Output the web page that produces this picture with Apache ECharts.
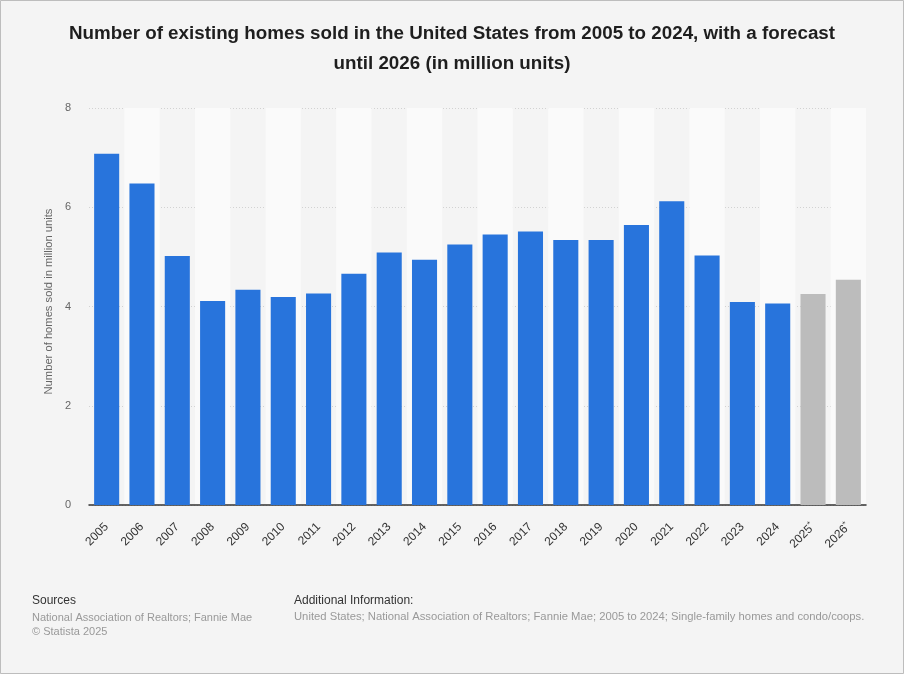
<!DOCTYPE html>
<html>
<head>
<meta charset="utf-8">
<script src="https://cdn.jsdelivr.net/npm/echarts@6/dist/echarts.min.js"></script>
<style>
html,body{margin:0;padding:0;background:#f4f4f4;}
#c{width:904px;height:674px;}
</style>
</head>
<body>
<div id="c"></div>
<script>
const categories = ['2005','2006','2007','2008','2009','2010','2011','2012','2013','2014','2015','2016','2017','2018','2019','2020','2021','2022','2023','2024','2025*','2026*'];
const homesSold = [7.08,6.48,5.02,4.11,4.34,4.19,4.26,4.66,5.09,4.94,5.25,5.45,5.51,5.34,5.34,5.64,6.12,5.03,4.09,4.06,4.25,4.54];
const forecastCategories = ['2025*','2026*'];
const yTicks = [0,2,4,6,8];

const chart = echarts.init(document.getElementById('c'), null, {renderer:'canvas'});
const FONT = '"Liberation Sans", Arial, Helvetica, sans-serif';

chart.setOption({
  backgroundColor: '#f4f4f4',
  animation: false,
  title: {
    text: 'Number of existing homes sold in the United States from 2005 to 2024, with a forecast\nuntil 2026 (in million units)',
    left: 'center',
    top: 14,
    textStyle: {fontFamily: FONT, fontSize: 18.8, fontWeight: 'bold', color: '#1e1e1e', lineHeight: 30}
  },
  grid: {left: 89, right: 38, top: 108, bottom: 169, containLabel: false},
  xAxis: {
    type: 'category',
    data: categories,
    boundaryGap: true,
    axisLine: {show: true, lineStyle: {color: '#333', width: 1.5}},
    axisTick: {show: false},
    splitArea: {show: true, areaStyle: {color: ['rgba(0,0,0,0)', '#fafafa']}},
    axisLabel: {
      rotate: 45, interval: 0, margin: 20,
      fontFamily: FONT, fontSize: 12, color: '#333',
      formatter: function (v) { return v.endsWith('*') ? v.slice(0, -1) + '{s|*}' : v; },
      rich: {s: {fontSize: 8, color: '#333', verticalAlign: 'top', padding: [0,0,6,0]}}
    }
  },
  yAxis: {
    type: 'value',
    min: yTicks[0], max: yTicks[yTicks.length - 1], interval: 2,
    name: 'Number of homes sold in million units',
    nameLocation: 'middle',
    nameGap: 34,
    nameTextStyle: {fontFamily: FONT, fontSize: 11.2, color: '#666', padding: [0, 0, 0, 10]},
    axisLine: {show: false},
    axisTick: {show: false},
    axisLabel: {fontFamily: FONT, fontSize: 11, color: '#666', margin: 18},
    splitLine: {show: true, lineStyle: {color: '#d2d2d2', type: [1, 2], width: 1}}
  },
  series: [{
    type: 'bar',
    barCategoryGap: '29%',
    data: homesSold.map((v, i) => ({
      value: v,
      itemStyle: {color: forecastCategories.includes(categories[i]) ? '#bcbcbc' : '#2874dc'}
    }))
  }],
  graphic: [
    {type: 'rect', shape: {x: 0.5, y: 0.5, width: 903, height: 673}, style: {fill: 'none', stroke: '#bdbdbd', lineWidth: 1}, silent: true},
    {type: 'text', left: 32, top: 595, style: {text: 'Sources', font: '12px ' + FONT, fill: '#333'}},
    {type: 'text', left: 32, top: 611, style: {text: 'National Association of Realtors; Fannie Mae\n© Statista 2025', font: '11px ' + FONT, fill: '#999', lineHeight: 14}},
    {type: 'text', left: 294, top: 595, style: {text: 'Additional Information:', font: '12px ' + FONT, fill: '#333'}},
    {type: 'text', left: 294, top: 611, style: {text: 'United States; National Association of Realtors; Fannie Mae; 2005 to 2024; Single-family homes and condo/coops.', font: '11.25px ' + FONT, fill: '#999'}}
  ]
});
</script>
</body>
</html>
